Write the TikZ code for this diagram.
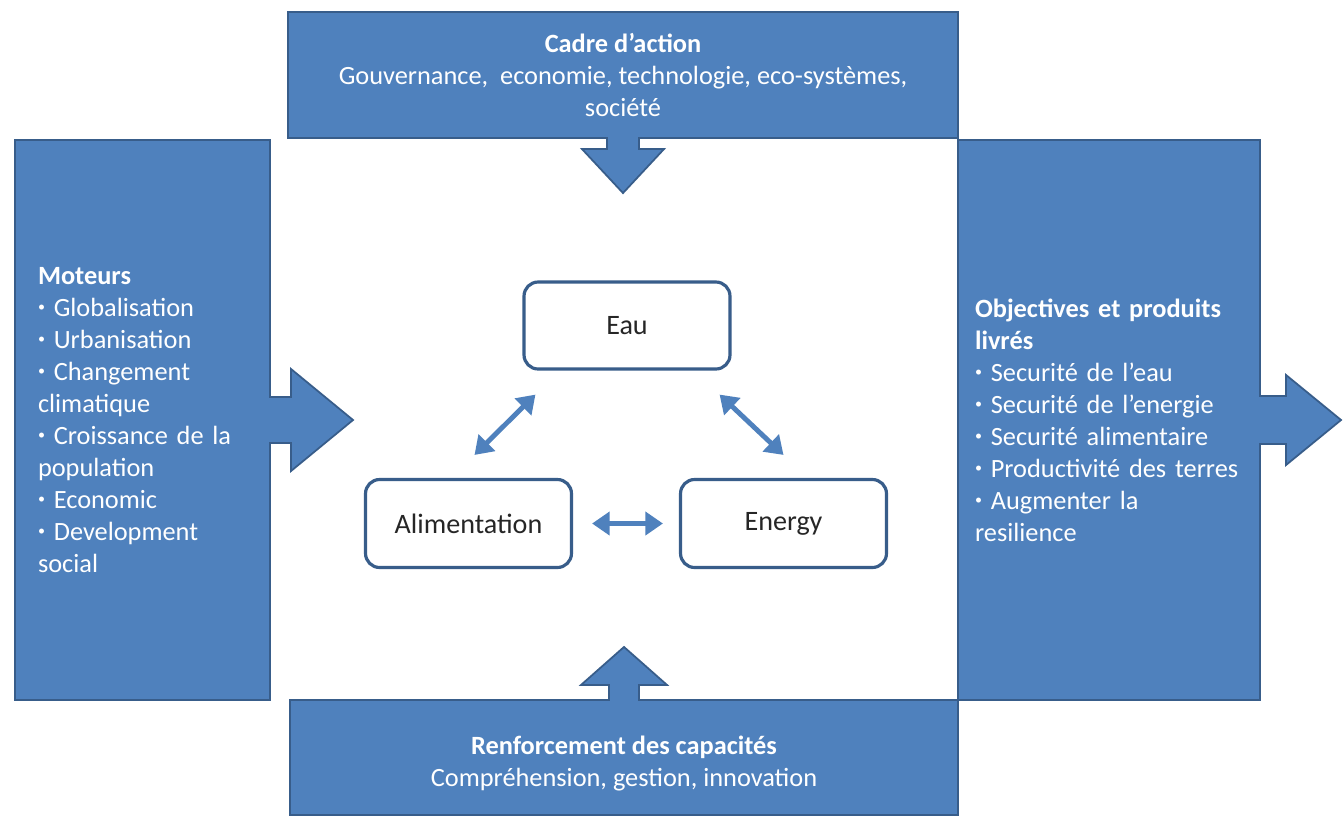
\documentclass[tikz,border=0pt]{standalone}
\usepackage{fontspec}
\setmainfont{Carlito}
\usetikzlibrary{arrows.meta}
\definecolor{boxblue}{HTML}{4F81BD}
\definecolor{boxedge}{HTML}{385D8A}
\definecolor{txtdark}{HTML}{262626}
\newcommand{\puce}{\raisebox{0.18em}{\fontsize{8}{8}\selectfont•}\ }
\tikzset{every node/.style={font=\fontsize{15}{18.2}\selectfont}}
\tikzset{block/.style={draw=boxedge,fill=boxblue,line width=1.2pt,text=white,inner sep=0pt}}
\tikzset{theme/.style={draw=boxedge,fill=white,rounded corners=8pt,line width=1.8pt,text=txtdark,minimum width=4.12cm,minimum height=1.76cm,font=\fontsize{16}{19}\selectfont}}
\tikzset{link/.style={draw=boxblue,line width=2.8pt,{Triangle[length=10pt,width=13pt]}-{Triangle[length=10pt,width=13pt]}}}
\tikzset{bigarrow/.style={fill=boxblue,draw=boxedge,line width=1pt,line join=miter}}

\begin{document}
\begin{tikzpicture}[x=0.02cm,y=-0.02cm]

\fill[white] (0,0) rectangle (1344,819);
\useasboundingbox (0,0) rectangle (1344,819);

\node[block,minimum width=5.1cm,minimum height=11.2cm,text width=4.18cm,align=left] (moteurs) at (142.5,420)
  {\textbf{Moteurs}\\ \puce Globalisation\\ \puce Urbanisation\\ \puce Changement\\ climatique\\ \puce Croissance de la\\ population\\ \puce Economic\\ \puce Development\\ social};
\node[block,minimum width=6.04cm,minimum height=11.2cm,text width=5.36cm,align=left] (objectifs) at (1109,420)
  {\textbf{Objectives et produits}\\ \textbf{livrés}\\ \puce Securité de l’eau\\ \puce Securité de l’energie\\ \puce Securité alimentaire\\ \puce Productivité des terres\\ \puce Augmenter la\\ resilience};
\node[block,minimum width=13.4cm,minimum height=2.52cm,align=center] (cadre) at (623,75)
  {\textbf{Cadre d’action}\\ Gouvernance,\ \ economie, technologie, eco-systèmes,\\ société};
\node[block,minimum width=13.36cm,minimum height=2.3cm,align=center] (capac) at (624,757.5)
  {\rule{0pt}{17pt}\textbf{Renforcement des capacités}\\ Compréhension, gestion, innovation};

\filldraw[bigarrow] ([shift={(-16,-2)}]cadre.south) -- ++(0,12) -- ++(-25,0) -- ++(41,44) -- ++(41,-44) -- ++(-25,0) -- ++(0,-12);
\filldraw[bigarrow] ([shift={(-15,2)}]capac.north) -- ++(0,-16) -- ++(-28,0) -- ++(43,-38) -- ++(43,38) -- ++(-28,0) -- ++(0,16);
\filldraw[bigarrow] ([shift={(-2,-23)}]moteurs.east) -- ++(22,0) -- ++(0,-28) -- ++(62,51) -- ++(-62,51) -- ++(0,-28) -- ++(-22,0);
\filldraw[bigarrow] ([shift={(-2,-24)}]objectifs.east) -- ++(27,0) -- ++(0,-21) -- ++(55,45) -- ++(-55,45) -- ++(0,-21) -- ++(-27,0);

\node[theme,minimum height=1.74cm] (eau) at (627,325.5) {Eau};
\node[theme] (alim) at (468.5,523.5) {Alimentation};
\node[theme] (energy) at (783.5,523.5) {Energy};

\draw[link] ([shift={(13,24)}]eau.south west) -- ([shift={(6,-23)}]alim.north);
\draw[link] ([shift={(-12,24)}]eau.south east) -- ([shift={(0,-23)}]energy.north);
\draw[link] ([shift={(19,0)}]alim.east) -- ([shift={(-16,0)}]energy.west);

\end{tikzpicture}
\end{document}
